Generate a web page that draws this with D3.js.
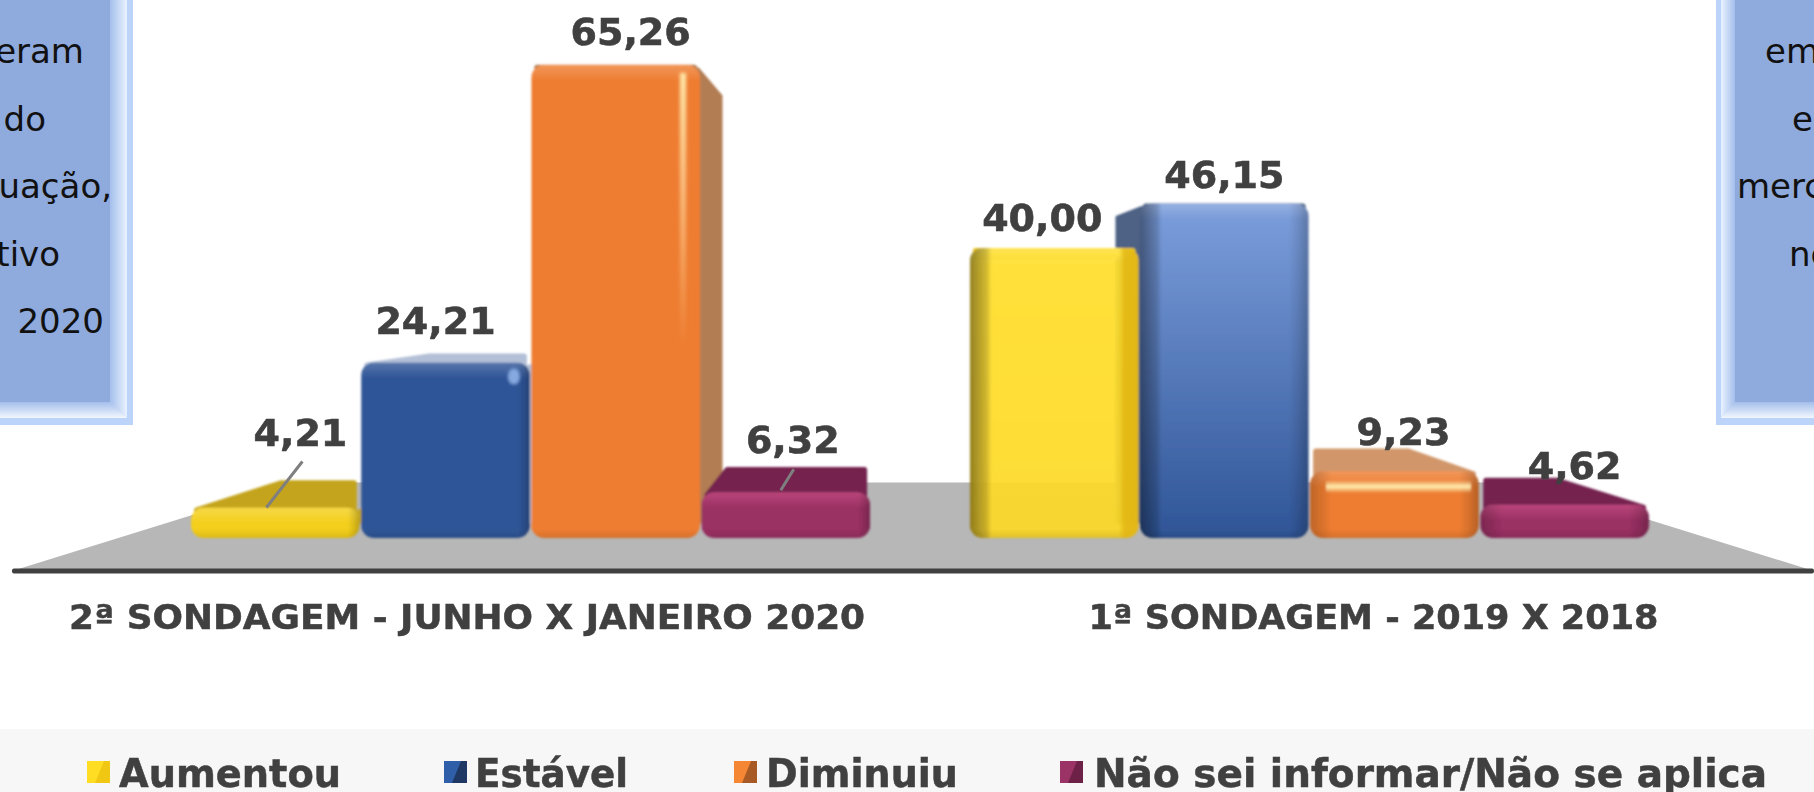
<!DOCTYPE html>
<html><head><meta charset="utf-8">
<script src="https://cdnjs.cloudflare.com/ajax/libs/d3/7.8.5/d3.min.js"></script>
<style>html,body{margin:0;padding:0;background:#fff;overflow:hidden}svg{display:block}text{font-family:"DejaVu Sans",sans-serif}</style>
</head><body><svg id="c" width="1814" height="792"></svg>
<script>
// ---- data ----
const categories = ["2ª SONDAGEM - JUNHO X JANEIRO 2020", "1ª SONDAGEM - 2019 X 2018"];
const seriesNames = ["Aumentou", "Estável", "Diminuiu", "Não sei informar/Não se aplica"];
const aumentou = [4.21, 40.00];
const estavel  = [24.21, 46.15];
const diminuiu = [65.26, 9.23];
const naoSei   = [6.32, 4.62];
const leftPanelLines  = ["eram", "do", "uação,", "tivo", "2020"];
const rightPanelLines = ["em", "e", "merc", "ne"];

// ---- layout ----
const seriesValues = [aumentou, estavel, diminuiu, naoSei];
const W = 1814, H = 792;
const svg = d3.select("#c"), defs = svg.append("defs");
const x0 = d3.scaleBand().domain(categories).range([191, 1649]).paddingInner(0.128).paddingOuter(0);
const x1 = d3.scaleBand().domain(seriesNames).range([0, x0.bandwidth()]).paddingInner(0.008);
const y  = d3.scaleLinear().domain([0, 70]).range([538, 30.5]);
const vp = {x: 910, y: 290}, depth = 0.125;
const back = (px, py) => [px + (vp.x - px) * depth, py + (vp.y - py) * depth];
const fmt = v => v.toFixed(2).replace(".", ",");

const baseCol = ["#f4cf1b", "#2f5597", "#ee7d31", "#9a3063"];
const topCol  = [["#c4a41c", "#b2bfd6", "#b27d52", "#75244f"], ["#e5c018", "#4d6285", "#d1976b", "#75244f"]];
const sideCol = [["#c4a41c", "#b2bfd6", "#b27d52", null], [null, "#4d6285", null, null]];
const labelOff = [
  [[25, -61], [-10, -28], [15, -20], [7, -39]],
  [[-12, -17], [0, -15], [9, -26], [10, -26]]
];
const leaders = {"0-0": [[27, -46], [-9, 0]], "0-3": [[8, -23], [-5, -2]]};

function grad(id, x2, y2, stops) {
  const g = defs.append("linearGradient").attr("id", id).attr("x1", 0).attr("y1", 0).attr("x2", x2).attr("y2", y2);
  stops.forEach(s => g.append("stop").attr("offset", s[0]).attr("stop-color", s[1]).attr("stop-opacity", s[2] === undefined ? 1 : s[2]));
  return `url(#${id})`;
}
defs.append("filter").attr("id", "soft").attr("x", "-5%").attr("y", "-5%").attr("width", "110%").attr("height", "110%")
  .append("feGaussianBlur").attr("stdDeviation", 0.8);
defs.append("filter").attr("id", "softer").attr("x", "-60%").attr("y", "-5%").attr("width", "220%").attr("height", "110%")
  .append("feGaussianBlur").attr("stdDeviation", 1.4);

// ---- side panels ----
function panel(g, outerX, stripX, fillX, mirror) {
  const yB = 425, yS = 418, yF = 402;
  const x1p = mirror ? W + 20 : -20;
  g.append("rect").attr("x", Math.min(x1p, outerX)).attr("y", -20).attr("width", Math.abs(outerX - x1p)).attr("height", yB + 20).attr("fill", "#bcd4fa");
  const sid = "strip" + (mirror ? "R" : "L");
  const sg = mirror
    ? grad(sid, 1, 0, [[0, "#e9f2ff"], [1, "#a4bfeb"]])
    : grad(sid, 1, 0, [[0, "#a4bfeb"], [1, "#e9f2ff"]]);
  const bg = grad(sid + "b", 0, 1, [[0, "#a4bfeb"], [1, "#f2f7ff"]]);
  g.append("path").attr("d", `M${stripX},-20L${fillX},-20L${fillX},${yF}L${stripX},${yS}Z`).attr("fill", sg);
  g.append("path").attr("d", `M${x1p},${yS}L${stripX},${yS}L${fillX},${yF}L${x1p},${yF}Z`).attr("fill", bg);
  g.append("rect").attr("x", Math.min(x1p, fillX)).attr("y", -20).attr("width", Math.abs(fillX - x1p)).attr("height", yF + 20).attr("fill", "#8faadc");
}
panel(svg.append("g"), 133, 127, 110, false);
panel(svg.append("g"), 1716, 1721, 1735, true);

const lineY = d3.scalePoint().domain(d3.range(5)).range([63, 333]);
const panelText = {fill: "#111", size: 34};
svg.append("g").selectAll("text").data(leftPanelLines).join("text")
  .attr("x", (d, i) => [84, 46, 112, 60, 104][i]).attr("y", (d, i) => lineY(i))
  .attr("text-anchor", "end").attr("font-size", panelText.size).attr("fill", panelText.fill).text(d => d);
svg.append("g").selectAll("text").data(rightPanelLines).join("text")
  .attr("x", (d, i) => [1765, 1792, 1737, 1789][i]).attr("y", (d, i) => lineY(i))
  .attr("font-size", panelText.size).attr("fill", panelText.fill).text(d => d);

// ---- floor ----
const floorY = 571, floorTop = 482.5;
svg.append("path").attr("d", `M12,${floorY}L297,${floorTop}L1529,${floorTop}L1814,${floorY}Z`).attr("fill", "#b7b7b7");
svg.append("rect").attr("x", 12).attr("y", floorY - 2.5).attr("width", W - 12).attr("height", 5).attr("rx", 2).attr("fill", "#404040");

// ---- bars ----
const edgeL = grad("edgeL", 1, 0, [[0, "#000", .42], [.75, "#000", .18], [1, "#000", 0]]);
const edgeLs = grad("edgeLs", 1, 0, [[0, "#000", .2], [1, "#000", 0]]);
const edgeR = grad("edgeR", 1, 0, [[0, "#000", 0], [.5, "#000", .1], [1, "#000", .24]]);
const edgeGold = grad("edgeGold", 1, 0, [[0, "#e0b410", 0], [.3, "#e0b410", .8], [1, "#e0b410", .9]]);
const blueV = grad("blueV", 0, 1, [[0, "#7c9edc"], [1, "#2f5597"]]);
const yellowV = grad("yellowV", 0, 1, [[0, "#ffdf2c"], [1, "#fdd826"]]);
const specV = grad("specV", 0, 1, [[0, "#ffe9a8", 1], [.35, "#ffd9a0", .65], [.8, "#ffd9a0", 0]]);
const specH = grad("specH", 0, 1, [[0, "#ffeeb0", 0], [.5, "#ffeeb0", 1], [1, "#ffeeb0", 0]]);
const topLight = grad("topLight", 0, 1, [[0, "#fff", .2], [1, "#fff", 0]]);
const purpleTop = grad("purpleTop", 0, 1, [[0, "#c04a80", .85], [1, "#c04a80", 0]]);
const botDark = grad("botDark", 0, 1, [[0, "#000", 0], [1, "#000", .1]]);

const bars = [];
categories.forEach((c, gi) => seriesNames.forEach((s, si) => bars.push({
  gi, si, c, s, v: seriesValues[si][gi]
})));
// painter's order: first group left to right, second group right to left
const ordered = bars.filter(b => b.gi === 0).concat(bars.filter(b => b.gi === 1).reverse());

const barG = svg.append("g").attr("filter", "url(#soft)");
ordered.forEach(b => {
  const xa = x0(b.c) + x1(b.s), w = x1.bandwidth(), xb = xa + w;
  const yt = y(b.v), yb = y(0), h = yb - yt;
  const g = barG.append("g");
  const ba = back(xa, yt), bb = back(xb, yt);
  // top face, kept inside the front outline on the far side
  const baX = Math.max(ba[0], xa + 6), bbX = Math.min(bb[0], xb - 6);
  g.append("path").attr("d", `M${xa + 6},${yt + 3}L${baX},${ba[1] + 3}L${bbX},${bb[1] + 3}L${xb - 6},${yt + 3}Z`)
    .attr("fill", topCol[b.gi][b.si]).attr("stroke", topCol[b.gi][b.si]).attr("stroke-linejoin", "round").attr("stroke-width", 6);
  // side face facing the vanishing point
  const sc = sideCol[b.gi][b.si];
  if (sc) {
    const onLeft = xb < vp.x, sx = onLeft ? xb : xa;
    const bsx = sx + (vp.x - sx) * depth * 0.8, bsy = (onLeft ? bb : ba)[1];
    g.append("path").attr("d", `M${sx - (onLeft ? 2 : -2)},${yt + 4}L${bsx},${bsy + 3}L${bsx},${yb - 16}L${sx},${yb - 16}Z`)
      .attr("fill", sc).attr("stroke", sc).attr("stroke-linejoin", "round").attr("stroke-width", 3);
  }
  // front face
  const r = Math.min(13, h / 2.4);
  const cid = `clip${b.gi}${b.si}`;
  defs.append("clipPath").attr("id", cid).append("rect").attr("x", xa).attr("y", yt).attr("width", w).attr("height", h).attr("rx", r).attr("ry", r);
  const f = g.append("g").attr("clip-path", `url(#${cid})`);
  const isY2 = b.gi === 1 && b.si === 0;
  const fill = (b.gi === 1 && b.si === 1) ? blueV : isY2 ? yellowV : baseCol[b.si];
  f.append("rect").attr("x", xa).attr("y", yt).attr("width", w).attr("height", h).attr("fill", fill).attr("fill-opacity", isY2 ? 0.93 : 1);
  f.append("rect").attr("x", xa).attr("y", yt).attr("width", w).attr("height", 16).attr("fill", b.si === 3 ? purpleTop : topLight);
  f.append("rect").attr("x", xa).attr("y", yb - 9).attr("width", w).attr("height", 9).attr("fill", botDark);
  if (b.gi === 1) {
    f.append("rect").attr("x", xa).attr("y", yt).attr("width", 22).attr("height", h).attr("fill", (b.si === 0 || b.si === 1) ? edgeL : edgeLs);
    f.append("rect").attr("x", xb - 20).attr("y", yt).attr("width", 20).attr("height", h).attr("fill", isY2 ? edgeGold : edgeR);
  } else if (b.si !== 2) {
    f.append("rect").attr("x", xb - 12).attr("y", yt).attr("width", 12).attr("height", h).attr("fill", edgeR);
  }
  if (b.gi === 0 && b.si === 2) f.append("rect").attr("x", xb - 20).attr("y", yt + 8).attr("width", 6).attr("height", h * 0.72).attr("fill", specV).attr("filter", "url(#softer)");
  if (b.gi === 1 && b.si === 2) f.append("rect").attr("x", xa + 16).attr("y", yt + 9).attr("width", w - 24).attr("height", 13).attr("fill", specH);
  if (b.gi === 0 && b.si === 1) f.append("ellipse").attr("cx", xb - 16).attr("cy", yt + 14).attr("rx", 6).attr("ry", 8).attr("fill", "#86a9e0").attr("filter", "url(#soft)");
});

// ---- leader lines and value labels ----
const lab = svg.append("g");
bars.forEach(b => {
  const cx = x0(b.c) + x1(b.s) + x1.bandwidth() / 2, yt = y(b.v);
  const l = leaders[`${b.gi}-${b.si}`];
  if (l) lab.append("line").attr("x1", cx + l[0][0]).attr("y1", yt + l[0][1]).attr("x2", cx + l[1][0]).attr("y2", yt + l[1][1])
    .attr("stroke", "#7f7f7f").attr("stroke-width", 3);
  const o = labelOff[b.gi][b.si];
  lab.append("text").attr("x", cx + o[0]).attr("y", yt + o[1]).attr("text-anchor", "middle")
    .attr("font-size", 38).attr("font-weight", 700).attr("fill", "#404040").attr("stroke", "#404040").attr("stroke-width", .6).text(fmt(b.v));
});

// ---- category labels ----
const catOff = [-63.5, 64], catLen = [796, 570];
svg.append("g").selectAll("text").data(categories).join("text")
  .attr("x", (d, i) => x0(d) + x0.bandwidth() / 2 + catOff[i]).attr("y", 629)
  .attr("text-anchor", "middle").attr("font-size", 34).attr("font-weight", 700).attr("fill", "#404040").attr("stroke", "#404040").attr("stroke-width", .5)
  .attr("textLength", (d, i) => catLen[i]).attr("lengthAdjust", "spacingAndGlyphs").text(d => d);

// ---- legend ----
svg.append("rect").attr("x", 0).attr("y", 729).attr("width", W).attr("height", H - 729).attr("fill", "#f7f7f7");
const swatchX = d3.scaleOrdinal().domain(seriesNames).range([87, 444, 734, 1060]);
const textX = d3.scaleOrdinal().domain(seriesNames).range([119, 475, 766, 1094]);
const textLen = [222, 153, 192, 673];
const swDark = ["#f0c814", "#1f3864", "#a85a24", "#6e2147"];
const swLight = ["#ffdd22", "#2f5fa8", "#f58634", "#9c3366"];
const leg = svg.append("g").selectAll("g").data(seriesNames).join("g");
leg.append("rect").attr("x", d => swatchX(d)).attr("y", 761).attr("width", 23).attr("height", 22).attr("fill", (d, i) => swDark[i]);
leg.append("path").attr("d", d => `M${swatchX(d)},761h17l-9,22h-8Z`).attr("fill", (d, i) => swLight[i]);
leg.append("text").attr("x", d => textX(d)).attr("y", 787).attr("font-size", 39).attr("font-weight", 700).attr("fill", "#404040").attr("stroke", "#404040").attr("stroke-width", .5)
  .attr("textLength", (d, i) => textLen[i]).attr("lengthAdjust", "spacingAndGlyphs").text(d => d);
</script></body></html>
